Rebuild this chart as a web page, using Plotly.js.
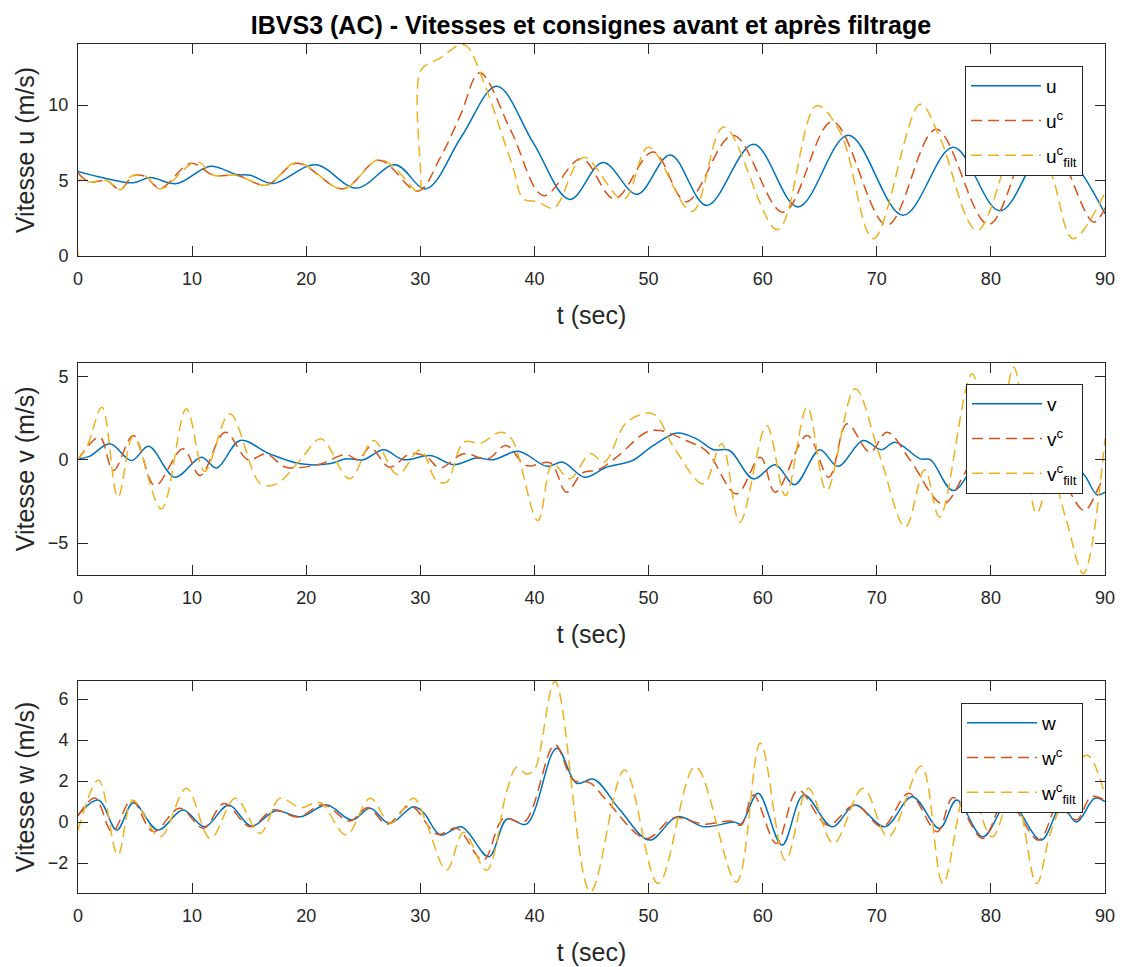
<!DOCTYPE html>
<html>
<head>
<meta charset="utf-8">
<script src="https://cdn.plot.ly/plotly-3.0.1.min.js"></script>
<style>html,body{margin:0;padding:0;background:#fff;}</style>
</head>
<body>
<div id="chart" style="width:1124px;height:967px;"></div>
<script>
// ---------- Panel 1 : u ----------
const tU = [0, 2.1, 4.85, 6.3, 8.65, 11.6, 13.9, 15.1, 17.1, 20.8, 24.4, 27.8, 30.5, 33.6, 36.7, 39.9, 43.1, 46.0, 49.0, 51.9, 55.1, 59.2, 63.1, 67.5, 72.3, 76.7, 80.8, 85.2, 90];
const uVals = [5.6, 5.2, 4.85, 5.2, 4.8, 5.95, 5.4, 5.35, 4.8, 6.05, 4.5, 6.05, 4.45, 7.9, 11.25, 7.5, 3.75, 6.2, 4.1, 6.7, 3.35, 7.4, 3.25, 8.0, 2.7, 7.2, 3.0, 7.5, 2.8];

const tUc = [0, 1, 2.5, 3.7, 4.8, 5.8, 7.2, 9.9, 11.9, 13.9, 16.5, 19.2, 23.2, 26.4, 29.8, 31.7, 33.5, 35.2, 38.0, 40.8, 44.1, 47.0, 50.4, 53.3, 57.4, 61.8, 66.1, 70.9, 75.2, 79.8, 84.3, 89.0, 90];
const ucVals = [5.5, 4.9, 5.0, 4.4, 5.3, 5.3, 4.5, 6.15, 5.35, 5.35, 4.7, 6.15, 4.45, 6.35, 4.3, 6.45, 9.3, 12.15, 8.2, 4.0, 6.45, 3.8, 6.9, 3.6, 8.0, 2.9, 8.9, 2.05, 8.4, 2.1, 8.8, 2.25, 3.2];

const tUf = [0, 0.05, 1, 2.5, 3.7, 4.7, 5.9, 7.2, 10.4, 11.9, 13.9, 16.5, 19.2, 23.2, 26.5, 29.7, 29.95, 30.05, 31.7, 33.5, 34.1, 35.8, 37.0, 38.15, 39.0, 40.2, 41.65, 42.2, 44.3, 47.8, 50.0, 53.8, 56.6, 61.3, 64.7, 66.8, 69.7, 73.8, 75.5, 78.8, 83.3, 85.5, 87.2, 90];
const ufVals = [0, 5.0, 4.9, 5.0, 4.4, 5.3, 5.3, 4.45, 6.25, 5.35, 5.35, 4.7, 6.2, 4.45, 6.4, 4.25, 4.2, 12.3, 13.1, 14.0, 13.9, 11.05, 8.4, 5.8, 3.8, 3.6, 3.15, 3.6, 6.55, 3.75, 7.2, 2.95, 8.55, 1.75, 9.95, 8.2, 1.15, 10.05, 7.9, 1.7, 10.0, 5.0, 1.15, 4.2];

// ---------- Panel 2 : v ----------
const tV = [0, 1, 2.8, 4.7, 6.2, 8.5, 10.8, 12.15, 14.2, 16.8, 19.5, 22, 23.5, 25, 26.8, 28.5, 30.9, 32.9, 34.9, 36.4, 38.6, 41.1, 42.5, 44.4, 46.3, 48.6, 50.3, 52.5, 54.2, 55.7, 57.1, 59.2, 61.1, 62.8, 65.0, 66.6, 68.8, 70.4, 71.6, 73.8, 74.7, 76.7, 79.5, 82.5, 85.5, 88.1, 89.3, 90];
const vVals = [0.05, 0.2, 0.95, -0.05, 0.8, -1.05, 0.15, -0.5, 1.15, 0.35, -0.25, -0.25, 0.05, 0, 0.6, 0, 0.25, -0.3, 0.1, 0, 0.5, -0.4, -0.15, -1.05, -0.45, -0.05, 0.8, 1.6, 1.25, 0.6, 0.55, -1.15, -0.3, -1.5, 0.6, -0.4, 1.15, 0.6, 1.05, 0.05, 0, -1.85, 0.3, -0.8, 0.5, -0.85, -2.1, -1.95];

const tVc = [0, 1.9, 3.1, 4.85, 6.75, 9.2, 10.7, 12.9, 14.9, 16.5, 18.2, 21, 23.5, 24.6, 25.6, 27.3, 29.1, 30.5, 31.7, 33.8, 35.9, 37.5, 39.3, 41.4, 42.8, 44.2, 45.6, 47.2, 49.8, 51.0, 53.3, 55.1, 57.7, 59.8, 61.1, 63.9, 65.8, 67.4, 69.4, 70.9, 72.9, 75.8, 78, 80, 82, 84.5, 86.5, 88.2, 89.7, 90];
const vcVals = [0, 1.35, -0.65, 1.45, -1.55, 0.65, -0.95, 1.65, 0.0, 0.35, -0.45, -0.3, 0.3, 0.0, 0.75, -0.45, 0.35, 0.2, -0.5, 0.35, 0.05, 0.85, -0.35, -0.2, -1.95, -0.8, -0.6, 0.15, 1.65, 1.75, 1.15, 0.5, -2.05, 0.15, -1.95, 1.45, -1.05, 2.15, 0.45, 1.65, 0.0, -2.65, -0.5, 1.2, 2.0, 0.2, -1.5, -3.05, -1.35, -1.2];

const tVf = [0, 0.8, 2.1, 3.5, 4.85, 7.3, 9.5, 11.1, 13.3, 16.0, 17.4, 19.5, 21.3, 23.8, 25.9, 28.0, 30.0, 31.4, 32.3, 33.8, 35.3, 37.0, 38.0, 40.3, 41.6, 43.1, 44.9, 46.1, 48.1, 50.4, 52.2, 54.8, 56.4, 58.0, 60.35, 62.0, 63.9, 65.6, 68.1, 70.3, 72.5, 74.2, 75.5, 78.35, 80.2, 82.0, 84.0, 85.3, 86.6, 88.1, 90];
const vfVals = [0, 0.8, 3.15, -2.25, 1.4, -2.95, 3.05, -0.7, 2.75, -1.45, -1.45, 0, 1.25, -1.15, 1.15, -0.9, 0.6, -1.25, -1.35, 1.05, 1.0, 1.65, 1.25, -3.65, -0.25, -1.15, 0.35, -0.15, 2.25, 2.75, 0.75, -1.45, 0.95, -3.75, 2.05, -2.15, 3.15, -1.85, 4.25, 0.15, -4.05, -0.6, -3.45, 5.15, -1.0, 5.55, -3.2, -1.0, -3.6, -6.85, 1.25];

// ---------- Panel 3 : w ----------
const tW = [0, 1.8, 3.4, 4.85, 7.0, 9.2, 11.1, 13.2, 15.2, 17.3, 19.5, 21.8, 24.0, 25.6, 27.3, 29.4, 30.3, 31.75, 33.6, 36.0, 37.6, 39.3, 41.95, 43.7, 45.2, 47.5, 50.1, 52.5, 54.9, 57.5, 58.1, 59.6, 61.7, 63.6, 66.1, 68.1, 70.7, 73.1, 75.5, 77.0, 79.3, 81.6, 84.4, 86.2, 87.5, 89.1, 90];
const wVals = [0.34, 1.07, -0.39, 0.94, -0.39, 0.59, -0.23, 0.83, -0.2, 0.54, 0.26, 0.83, 0.1, 0.67, -0.07, 0.75, 0.45, -0.63, -0.23, -1.69, 0.15, -0.1, 3.6, 1.89, 2.09, 0.59, -0.88, 0.26, -0.23, 0.0, -0.1, 1.4, -1.12, 1.32, -0.23, 0.83, -0.23, 1.24, -0.31, 1.07, -0.72, 1.0, -0.88, 0.8, 0.0, 1.16, 1.0];

const tWc = [0, 1.5, 3.0, 4.7, 6.6, 8.9, 11.0, 12.8, 15.1, 17.1, 19.3, 21.5, 23.8, 25.4, 27.1, 29.1, 31.5, 33.2, 35.5, 37.3, 39.1, 41.8, 43.4, 44.9, 46.3, 49.8, 52.2, 54.9, 57.2, 58.1, 59.2, 61.2, 63.1, 65.7, 68.1, 70.5, 72.8, 75.3, 76.7, 79.3, 81.3, 84.2, 85.9, 87.5, 88.8, 90];
const wcVals = [0.3, 1.17, -0.47, 1.07, -0.47, 0.67, -0.3, 0.9, -0.23, 0.59, 0.25, 0.85, 0.05, 0.7, -0.1, 0.8, -0.6, -0.3, -1.86, 0.18, 0.0, 3.77, 2.05, 1.9, 1.07, -0.8, 0.2, -0.1, 0.05, -0.15, 1.32, -1.04, 1.56, -0.15, 0.83, -0.23, 1.4, -0.47, 1.2, -0.8, 1.1, -0.88, 0.8, 0.1, 1.24, 1.05];

const tWf = [0, 1.8, 3.5, 4.8, 7.2, 9.5, 11.6, 13.8, 15.95, 17.7, 19.5, 21.2, 23.5, 25.6, 27.4, 29.4, 30.5, 32.3, 33.8, 35.8, 37.6, 38.45, 39.3, 40.0, 41.8, 44.9, 47.9, 50.85, 54.1, 57.7, 59.8, 62.0, 64.0, 66.2, 68.8, 71.0, 73.9, 75.8, 78.0, 80.1, 82.0, 84.0, 85.3, 88.4, 90];
const wfVals = [-0.4, 2.05, -1.61, 1.05, -0.72, 1.65, -0.8, 1.16, -0.55, 1.16, 0.7, 0.95, -0.63, 1.16, -0.05, 1.16, 0.0, -2.35, -0.5, -2.35, 1.56, 2.67, 2.35, 2.55, 6.86, -3.4, 2.54, -3.0, 2.7, -2.92, 3.85, -1.86, 1.65, -1.04, 1.65, -0.72, 2.73, -3.0, 1.8, -0.72, 1.6, -3.0, -0.4, 3.27, 1.3];

// ---------- labels ----------
const titleText = 'IBVS3 (AC) - Vitesses et consignes avant et après filtrage';
const xTitle = 't (sec)';
const yTitles = ['Vitesse u (m/s)', 'Vitesse v (m/s)', 'Vitesse w (m/s)'];
const legendNames = [
  ['u', 'u<sup>c</sup>', 'u<sup>c</sup><sub>filt</sub>'],
  ['v', 'v<sup>c</sup>', 'v<sup>c</sup><sub>filt</sub>'],
  ['w', 'w<sup>c</sup>', 'w<sup>c</sup><sub>filt</sub>']
];
const xTicks = [0, 10, 20, 30, 40, 50, 60, 70, 80, 90];
const yTicks = [[0, 5, 10], [-5, 0, 5], [-2, 0, 2, 4, 6]];
const yRanges = [[0, 14.05], [-6.92, 5.82], [-3.46, 6.88]];

const BLUE = '#0072BD', RED = '#D95319', YEL = '#EDB120';
const FONT = '"Liberation Sans", Arial, Helvetica, sans-serif';
const DASH = '11px,6px';

const panels = [
  [[tU, uVals], [tUc, ucVals], [tUf, ufVals]],
  [[tV, vVals], [tVc, vcVals], [tVf, vfVals]],
  [[tW, wVals], [tWc, wcVals], [tWf, wfVals]]
];
const styles = [
  {color: BLUE, dash: 'solid'},
  {color: RED, dash: DASH},
  {color: YEL, dash: DASH}
];

const traces = [];
panels.forEach((p, i) => {
  const sfx = i === 0 ? '' : String(i + 1);
  p.forEach((s, j) => {
    traces.push({
      type: 'scatter', mode: 'lines',
      x: s[0], y: s[1],
      name: legendNames[i][j],
      xaxis: 'x' + sfx, yaxis: 'y' + sfx,
      legend: 'legend' + sfx,
      legendgroup: 'g' + i + '_' + j,
      line: {color: styles[j].color, dash: styles[j].dash, width: 1.5, shape: 'spline', smoothing: 1}
    });
  });
});

const W = 1124, H = 967;
const xDom = [78 / W, 1105 / W];
const yDoms = [[1 - 256 / H, 1 - 44 / H], [1 - 575 / H, 1 - 362.7 / H], [1 - 893 / H, 1 - 681 / H]];
const legTops = [66, 384, 703];

const layout = {
  width: W, height: H,
  margin: {l: 0, r: 0, t: 0, b: 0},
  paper_bgcolor: '#ffffff', plot_bgcolor: '#ffffff',
  font: {family: FONT, color: '#262626', size: 18},
  showlegend: true,
  title: {text: '<b>' + titleText + '</b>', x: 591 / W, xanchor: 'center', y: 1 - 25 / H, yanchor: 'middle',
          font: {family: FONT, size: 25, color: '#000000'}}
};

for (let i = 0; i < 3; i++) {
  const sfx = i === 0 ? '' : String(i + 1);
  layout['xaxis' + sfx] = {
    domain: xDom, range: [0, 90], anchor: 'y' + sfx,
    tickmode: 'array', tickvals: xTicks,
    ticks: 'inside', ticklen: 10, tickwidth: 1, tickcolor: '#262626',
    showline: true, mirror: 'ticks', linecolor: '#262626', linewidth: 1,
    showgrid: false, zeroline: false,
    tickfont: {family: FONT, size: 18, color: '#262626'},
    ticklabelstandoff: 6,
    title: {text: xTitle, font: {family: FONT, size: 25, color: '#262626'}, standoff: 18}
  };
  layout['yaxis' + sfx] = {
    domain: yDoms[i], range: yRanges[i], anchor: 'x' + sfx,
    tickmode: 'array', tickvals: yTicks[i],
    ticks: 'inside', ticklen: 10, tickwidth: 1, tickcolor: '#262626',
    showline: true, mirror: 'ticks', linecolor: '#262626', linewidth: 1,
    showgrid: false, zeroline: false,
    tickfont: {family: FONT, size: 18, color: '#262626'},
    ticklabelstandoff: 5,
    title: {text: yTitles[i], font: {family: FONT, size: 25, color: '#262626'}, standoff: 6}
  };
  layout['legend' + sfx] = {
    x: 1083 / W, xanchor: 'right', y: 1 - legTops[i] / H, yanchor: 'top',
    bgcolor: '#ffffff', bordercolor: '#262626', borderwidth: 1,
    font: {family: FONT, size: 19, color: '#000000'},
    itemwidth: 70, tracegroupgap: 7, traceorder: 'grouped'
  };
}

Plotly.newPlot('chart', traces, layout, {displayModeBar: false, staticPlot: true});
</script>
</body>
</html>
